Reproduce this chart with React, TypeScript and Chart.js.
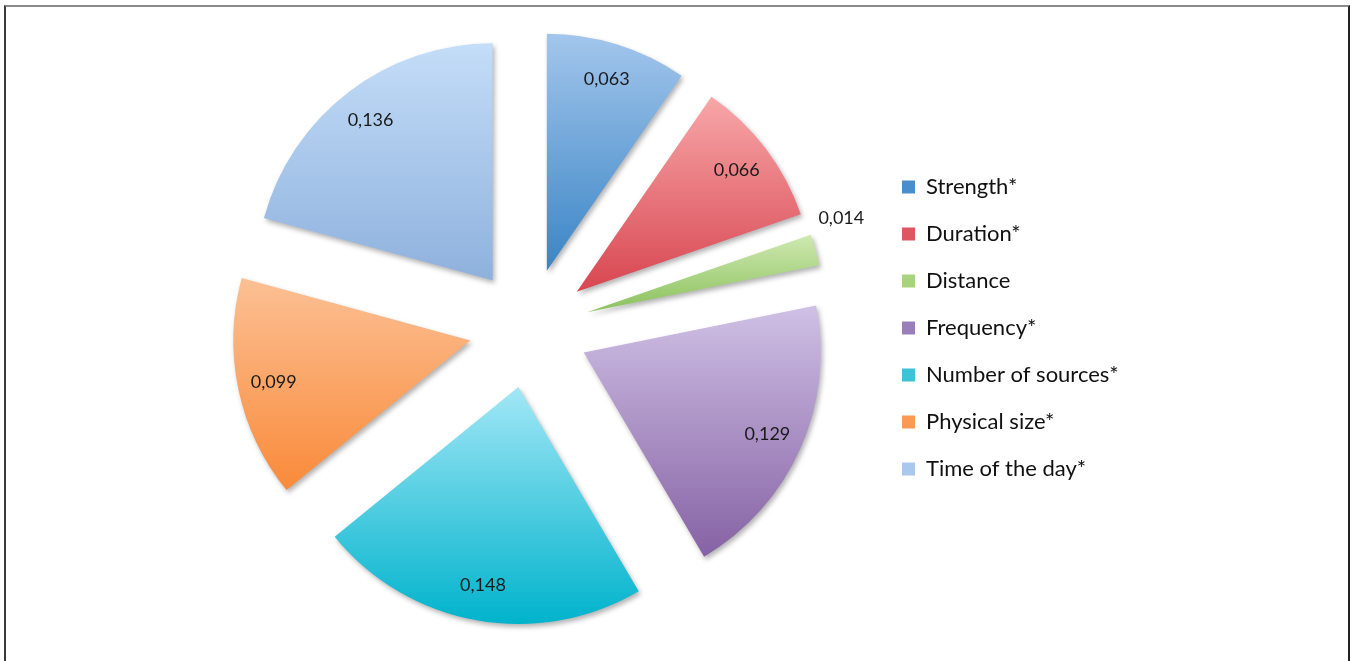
import React, { useEffect, useRef } from "react";
import { Chart, registerables } from "chart.js";

Chart.register(...registerables);

// ---- data ----
const categories = [
  "Strength*",
  "Duration*",
  "Distance",
  "Frequency*",
  "Number of sources*",
  "Physical size*",
  "Time of the day*",
];
const values = [0.063, 0.066, 0.014, 0.129, 0.148, 0.099, 0.136];
const valueLabels = ["0,063", "0,066", "0,014", "0,129", "0,148", "0,099", "0,136"];

// ---- styles ----
const topColors = ["#a3c6ec", "#f7a7a9", "#cfe9b1", "#cfc0e5", "#a2e7f6", "#fcc094", "#c4ddf8"];
const bottomColors = ["#3a85c5", "#d84650", "#8bc15d", "#8662a4", "#00b3cc", "#f98a3a", "#8eb1dd"];
const legendColors = ["#4a8dcc", "#dc5760", "#a8d37e", "#9a7ebb", "#3cc3d8", "#fa9a55", "#a9c8ee"];

const FONT = "Lato, 'Open Sans', sans-serif";
const LEGEND_FONT_SIZE = 22;
const LABEL_FONT_SIZE = 18;
const RADIUS = 237;
const EXPLODE = 60;
const W = 1352;
const H = 661;

const total = values.reduce((a, b) => a + b, 0);

const explodePlugin = {
  id: "explodeSlices",
  afterUpdate(chart: any) {
    const meta = chart.getDatasetMeta(0);
    const area = chart.chartArea;
    const cx = (area.left + area.right) / 2;
    const cy = (area.top + area.bottom) / 2;
    const ctx = chart.ctx as CanvasRenderingContext2D;
    meta.data.forEach((arc: any, i: number) => {
      const mid = (arc.startAngle + arc.endAngle) / 2;
      arc.x = cx + Math.cos(mid) * EXPLODE;
      arc.y = cy + Math.sin(mid) * EXPLODE;
      const r = arc.outerRadius;
      const ys = [arc.y, arc.y + Math.sin(arc.startAngle) * r, arc.y + Math.sin(arc.endAngle) * r];
      const contains = (a: number) => {
        let t = a - 4 * Math.PI;
        while (t < arc.startAngle) t += 2 * Math.PI;
        return t <= arc.endAngle;
      };
      if (contains(-Math.PI / 2)) ys.push(arc.y - r);
      if (contains(Math.PI / 2)) ys.push(arc.y + r);
      const y0 = Math.min(...ys);
      const y1 = Math.max(...ys);
      const g = ctx.createLinearGradient(0, y0, 0, y1);
      g.addColorStop(0, topColors[i]);
      g.addColorStop(1, bottomColors[i]);
      if (arc.options) arc.options.backgroundColor = g;
    });
  },
  beforeDatasetsDraw(chart: any) {
    const ctx = chart.ctx as CanvasRenderingContext2D;
    ctx.save();
    ctx.shadowColor = "rgba(0,0,0,0.30)";
    ctx.shadowBlur = 5;
    ctx.shadowOffsetX = 2;
    ctx.shadowOffsetY = 3;
  },
  afterDatasetsDraw(chart: any) {
    const ctx = chart.ctx as CanvasRenderingContext2D;
    ctx.restore();
    const meta = chart.getDatasetMeta(0);
    ctx.save();
    ctx.font = `${LABEL_FONT_SIZE}px ${FONT}`;
    ctx.fillStyle = "#1a1a1a";
    meta.data.forEach((arc: any, i: number) => {
      const frac = values[i] / total;
      if (frac < 0.03) {
        const a = arc.startAngle;
        const rr = arc.outerRadius + 8;
        const x = arc.x + Math.cos(a) * rr;
        const y = arc.y + Math.sin(a) * rr;
        ctx.textAlign = "left";
        ctx.textBaseline = "alphabetic";
        ctx.fillText(valueLabels[i], x, y - 8);
      } else {
        const mid = (arc.startAngle + arc.endAngle) / 2;
        const rr = arc.outerRadius - 36;
        ctx.textAlign = "center";
        ctx.textBaseline = "middle";
        ctx.fillText(valueLabels[i], arc.x + Math.cos(mid) * rr, arc.y + Math.sin(mid) * rr);
      }
    });
    ctx.restore();
  },
};

export default function App() {
  const ref = useRef<HTMLCanvasElement | null>(null);

  useEffect(() => {
    const canvas = ref.current;
    if (!canvas) return;
    Chart.defaults.font.family = FONT;

    // measure the widest legend text to place the legend box
    const mctx = document.createElement("canvas").getContext("2d") as CanvasRenderingContext2D;
    mctx.font = `${LEGEND_FONT_SIZE}px ${FONT}`;
    const textW = Math.max(...categories.map((c) => mctx.measureText(c).width));
    const legPad = 25;
    const boxW = 13;
    const legendWidth = legPad + boxW + LEGEND_FONT_SIZE / 2 + textW + 10;
    const legendLeft = 902 - legPad;
    const padRight = W - legendLeft - legendWidth;
    const centerX = 529;
    const padLeft = 2 * centerX - legendLeft;

    const chart = new Chart(canvas, {
      type: "pie",
      data: {
        labels: categories,
        datasets: [
          {
            data: values,
            backgroundColor: legendColors,
            borderWidth: 0,
            hoverOffset: 0,
            offset: 0,
            radius: RADIUS,
          } as any,
        ],
      },
      options: {
        responsive: false,
        animation: false,
        events: [],
        layout: { padding: { left: padLeft, right: padRight, top: 0, bottom: 5 } },
        plugins: {
          tooltip: { enabled: false },
          legend: {
            position: "right",
            labels: {
              boxWidth: boxW,
              boxHeight: 13,
              padding: legPad,
              color: "#111111",
              font: { size: LEGEND_FONT_SIZE, family: FONT },
              generateLabels: () =>
                categories.map((c, i) => ({
                  text: c,
                  fillStyle: legendColors[i],
                  strokeStyle: legendColors[i],
                  lineWidth: 0,
                  hidden: false,
                  index: i,
                  fontColor: "#111111",
                })),
            },
          },
        },
      } as any,
      plugins: [explodePlugin],
    });
    return () => chart.destroy();
  }, []);

  return (
    <div
      style={{
        position: "fixed",
        left: 0,
        top: 0,
        width: W,
        height: H,
        overflow: "hidden",
        background: "#ffffff",
      }}
    >
      <div
        style={{
          position: "absolute",
          left: 4,
          top: 5,
          width: 1346,
          height: 720,
          boxSizing: "border-box",
          borderLeft: "2px solid #3a3a3a",
          borderTop: "2px solid #8a8a8a",
          borderRight: "2px solid #222222",
        }}
      />
      <canvas
        ref={ref}
        width={W}
        height={H}
        style={{ position: "absolute", left: 0, top: 0, width: W, height: H }}
      />
    </div>
  );
}
